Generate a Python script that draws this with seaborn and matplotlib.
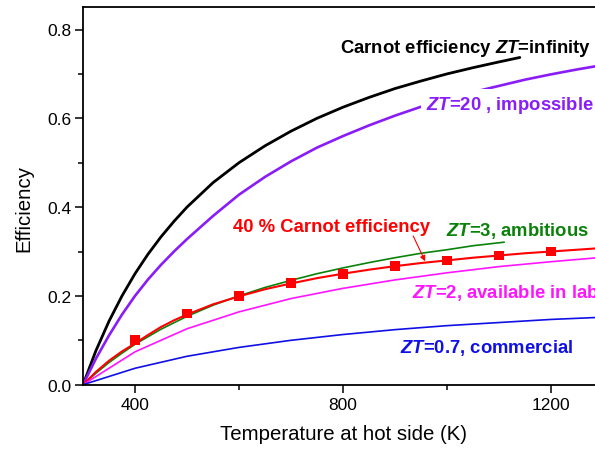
import matplotlib
matplotlib.use("Agg")
import matplotlib.pyplot as plt
import seaborn as sns
from matplotlib.ticker import MultipleLocator

# hot-side temperature grids (K)
t_carnot = [300, 325, 350, 375, 400, 425, 450, 475, 500, 550, 600, 650, 700, 750, 800,
            850, 900, 950, 1000, 1050, 1100, 1140]
t_fine = [300, 325, 350, 375, 400, 425, 450, 475, 500, 550, 600, 650, 700, 750, 800,
          850, 900, 950, 1000, 1050, 1100, 1150, 1200, 1250, 1300]
t_zt3 = [300, 325, 350, 375, 400, 450, 500, 550, 600, 650, 700, 750, 800,
         850, 900, 950, 1000, 1050, 1110]
t_coarse = [300, 400, 500, 600, 700, 800, 900, 1000, 1100, 1200, 1300]
t_marks = [400, 500, 600, 700, 800, 900, 1000, 1100, 1200]

# efficiencies
eff_carnot = [0.0, 0.077, 0.143, 0.200, 0.250, 0.294, 0.333, 0.368, 0.400, 0.455,
              0.500, 0.538, 0.571, 0.600, 0.625, 0.647, 0.667, 0.684, 0.700, 0.714,
              0.727, 0.737]
eff_zt20 = [0.0, 0.059, 0.111, 0.158, 0.200, 0.237, 0.270, 0.300, 0.328, 0.380,
            0.428, 0.468, 0.503, 0.534, 0.560, 0.584, 0.606, 0.626, 0.644, 0.659,
            0.673, 0.687, 0.699, 0.710, 0.720]
eff_40pct = [0.0, 0.029, 0.054, 0.075, 0.093, 0.112, 0.130, 0.145, 0.158, 0.181,
             0.199, 0.215, 0.228, 0.240, 0.250, 0.259, 0.267, 0.274, 0.280, 0.286,
             0.291, 0.296, 0.300, 0.304, 0.308]
eff_40pct_marks = [0.100, 0.160, 0.200, 0.229, 0.250, 0.267, 0.280, 0.291, 0.300]
eff_zt3 = [0.0, 0.026, 0.050, 0.071, 0.091, 0.125, 0.154, 0.179, 0.200, 0.219,
           0.235, 0.250, 0.263, 0.275, 0.286, 0.296, 0.304, 0.313, 0.321]
eff_zt2 = [0.0, 0.074, 0.126, 0.164, 0.194, 0.217, 0.236, 0.252, 0.266, 0.277, 0.287]
eff_zt07 = [0.0, 0.037, 0.064, 0.084, 0.100, 0.113, 0.124, 0.133, 0.140, 0.147, 0.152]

BLACK = "black"
PURPLE = "#8A1CF7"
RED = "#FF0000"
GREEN = "#0A820A"
MAGENTA = "#FF14FF"
BLUE = "#1010E6"

sns.set_theme(style="ticks")
plt.rcParams["font.family"] = ["Liberation Sans", "DejaVu Sans"]
plt.rcParams["mathtext.fontset"] = "custom"
plt.rcParams["mathtext.it"] = "Liberation Sans:italic:bold"
plt.rcParams["mathtext.rm"] = "Liberation Sans:bold"

fig = plt.figure(figsize=(5.95, 4.52), dpi=100)
ax = fig.add_axes([83 / 595, 66.3 / 452, 520 / 595, 377.4 / 452])

sns.lineplot(x=t_carnot, y=eff_carnot, color=BLACK, lw=2.0, ax=ax)
sns.lineplot(x=t_fine, y=eff_zt20, color=PURPLE, lw=1.9, ax=ax)
sns.lineplot(x=t_zt3, y=eff_zt3, color=GREEN, lw=1.2, ax=ax)
sns.lineplot(x=t_fine, y=eff_40pct, color=RED, lw=1.5, ax=ax)
sns.scatterplot(x=t_marks, y=eff_40pct_marks, color=RED, marker="s", s=48,
                edgecolor="none", ax=ax, zorder=4)
sns.lineplot(x=t_coarse, y=eff_zt2, color=MAGENTA, lw=1.2, ax=ax)
sns.lineplot(x=t_coarse, y=eff_zt07, color=BLUE, lw=1.2, ax=ax)

lab = dict(fontsize=13.3, fontweight="bold", va="baseline", ha="left")
ax.text(794, 0.750, r"Carnot efficiency $ZT$=infinity", color=BLACK, **lab)
ax.text(960, 0.620, r"$ZT$=20 , impossible", color=PURPLE,
        bbox=dict(boxstyle="square,pad=0.3", fc="white", ec="none"), **lab)
ax.text(588, 0.347, "40 % Carnot efficiency", color=RED, **lab)
ax.text(999, 0.338, r"$ZT$=3, ambitious", color=GREEN, **lab)
ax.text(932, 0.198, r"$ZT$=2, available in lab", color=MAGENTA, **lab)
ax.text(910, 0.073, r"$ZT$=0.7, commercial", color=BLUE, **lab)
ax.annotate("", xy=(958, 0.278), xytext=(935, 0.335),
            arrowprops=dict(arrowstyle="-|>", color=RED, lw=0.8, mutation_scale=8,
                            shrinkA=0, shrinkB=0))

ax.set_xlim(300, 1300)
ax.set_ylim(0, 0.85)
ax.xaxis.set_major_locator(MultipleLocator(400))
ax.xaxis.set_minor_locator(MultipleLocator(200))
ax.yaxis.set_major_locator(MultipleLocator(0.2))
ax.yaxis.set_minor_locator(MultipleLocator(0.1))
ax.set_xticks([400, 800, 1200])
ax.set_xticklabels(["400", "800", "1200"])
ax.set_yticks([0.0, 0.2, 0.4, 0.6, 0.8])
ax.set_yticklabels(["0.0", "0.2", "0.4", "0.6", "0.8"])

ax.tick_params(which="major", direction="out", length=5.5, width=1.1,
               labelsize=12.5, colors="black", pad=3)
ax.tick_params(which="minor", direction="out", length=3.5, width=1.1, colors="black")
ax.tick_params(axis="y", pad=2.5)
for side in ["left", "bottom", "top", "right"]:
    ax.spines[side].set_linewidth(1.3)
    ax.spines[side].set_color("black")

ax.set_xlabel("Temperature at hot side (K)", fontsize=14.7, color="black")
ax.set_ylabel("Efficiency", fontsize=14.7, color="black")
ax.xaxis.set_label_coords(0.5, -0.105)
ax.yaxis.set_label_coords(-0.095, 0.47)

fig.savefig("out.png", dpi=100)
